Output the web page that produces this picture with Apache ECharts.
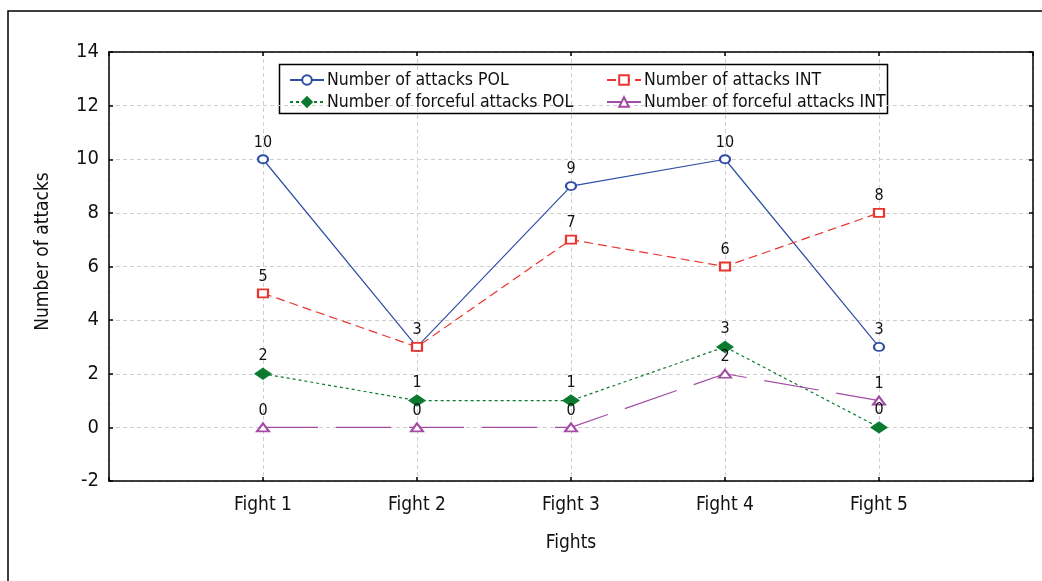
<!DOCTYPE html>
<html>
<head>
<meta charset="utf-8">
<script src="https://cdn.jsdelivr.net/npm/echarts@6/dist/echarts.min.js"></script>
<style>
  html, body { margin: 0; padding: 0; background: #fff; }
  #chart { width: 1042px; height: 581px; }
</style>
</head>
<body>
<div id="chart"></div>
<script>
// Fight labels and attack counts per fight
const fights = ['Fight 1', 'Fight 2', 'Fight 3', 'Fight 4', 'Fight 5'];
const attacksPOL = [10, 3, 9, 10, 3];
const attacksINT = [5, 3, 7, 6, 8];
const forcefulPOL = [2, 1, 1, 3, 0];
const forcefulINT = [0, 0, 0, 2, 1];
const yTicks = [-2, 0, 2, 4, 6, 8, 10, 12, 14];

const FONT = "'DejaVu Sans Condensed', 'Liberation Sans Narrow', sans-serif";

// earlier series' values, so a coinciding point gets only one value label
const drawn = [];

// fights sit at positions 1..5 on a 0..6 axis, leaving a margin slot on each side
function toPoints(arr) {
  const pts = arr.map((v, i) => {
    const dup = drawn.some(prev => prev[i] === v);
    return dup ? { value: [i + 1, v], label: { show: false } } : [i + 1, v];
  });
  drawn.push(arr);
  return pts;
}

const chart = echarts.init(document.getElementById('chart'), null, { renderer: 'canvas' });

const gridLine = { show: true, lineStyle: { color: '#cfcfcf', type: [4, 3], width: 1 } };
const boxLine = { show: true, onZero: false, lineStyle: { color: '#000', width: 1.5 } };
const tickIn = { show: true, inside: true, length: 4, lineStyle: { color: '#000', width: 1.5 } };

function lineSeries(name, data, color, dash, symbol, size) {
  return {
    name, type: 'line', data: toPoints(data),
    symbol, symbolSize: size,
    showAllSymbol: true,
    lineStyle: { color, width: 1.2, type: dash },
    itemStyle: { color, borderColor: color, borderWidth: 1.2 },
    label: {
      show: true, position: 'top', distance: 4,
      color: '#111', fontFamily: FONT, fontSize: 16
    },
    emphasis: { disabled: true },
    animation: false
  };
}

const legendText = { color: '#111', fontFamily: FONT, fontSize: 17.5, lineHeight: 22, padding: [0, 0, 0, -2] };

const option = {
  animation: false,
  grid: { left: 109, right: 9, top: 52, bottom: 100, containLabel: false },
  xAxis: [
    {
      type: 'value', min: 0, max: 6, interval: 1, position: 'bottom',
      axisLine: boxLine, axisTick: tickIn, splitLine: gridLine,
      axisLabel: {
        color: '#111', fontFamily: FONT, fontSize: 19, margin: 15,
        formatter: v => fights[v - 1] || ''
      },
      name: 'Fights', nameLocation: 'middle', nameGap: 53,
      nameTextStyle: { color: '#111', fontFamily: FONT, fontSize: 19 }
    },
    {
      type: 'value', min: 0, max: 6, interval: 1, position: 'top',
      axisLine: boxLine, axisTick: tickIn, splitLine: { show: false },
      axisLabel: { show: false }
    }
  ],
  yAxis: [
    {
      type: 'value', min: yTicks[0], max: yTicks[yTicks.length - 1], interval: 2,
      axisLine: boxLine, axisTick: tickIn, splitLine: gridLine,
      axisLabel: { color: '#111', fontFamily: FONT, fontSize: 20, margin: 10 },
      name: 'Number of attacks', nameLocation: 'middle', nameGap: 56,
      nameTextStyle: { color: '#111', fontFamily: FONT, fontSize: 19, padding: [0, 0, 0, 30] }
    },
    {
      type: 'value', min: yTicks[0], max: yTicks[yTicks.length - 1], interval: 2,
      position: 'right',
      axisLine: boxLine, axisTick: tickIn, splitLine: { show: false },
      axisLabel: { show: false }
    }
  ],
  legend: [
    {
      left: 284, top: 64, orient: 'vertical', itemGap: 0,
      itemWidth: 34, itemHeight: 12,
      data: ['Number of attacks POL', 'Number of forceful attacks POL'],
      textStyle: legendText,
      selectedMode: false
    },
    {
      left: 601, top: 64, orient: 'vertical', itemGap: 0,
      itemWidth: 34, itemHeight: 12,
      data: ['Number of attacks INT', 'Number of forceful attacks INT'],
      textStyle: legendText,
      selectedMode: false
    }
  ],
  graphic: [
    {
      type: 'rect', silent: true, z: -1,
      shape: { x: 8, y: 11, width: 1200, height: 700 },
      style: { fill: 'none', stroke: '#000', lineWidth: 1.5 }
    },
    {
      type: 'rect', silent: true, z: 0,
      shape: { x: 279.5, y: 64.5, width: 608, height: 49 },
      style: { fill: '#fff', stroke: '#000', lineWidth: 1.5 }
    }
  ],
  series: [
    lineSeries('Number of attacks POL', attacksPOL, '#2e4ea6', 'solid', 'emptyCircle', [10, 8]),
    lineSeries('Number of attacks INT', attacksINT, '#e8352e', [9, 5], 'emptyRect', [10, 8]),
    lineSeries('Number of forceful attacks POL', forcefulPOL, '#0b7a30', [3, 3], 'diamond', [16, 11]),
    lineSeries('Number of forceful attacks INT', forcefulINT, '#a34ca3', [55, 18], 'emptyTriangle', [12, 8])
  ]
};

chart.setOption(option);
</script>
</body>
</html>
